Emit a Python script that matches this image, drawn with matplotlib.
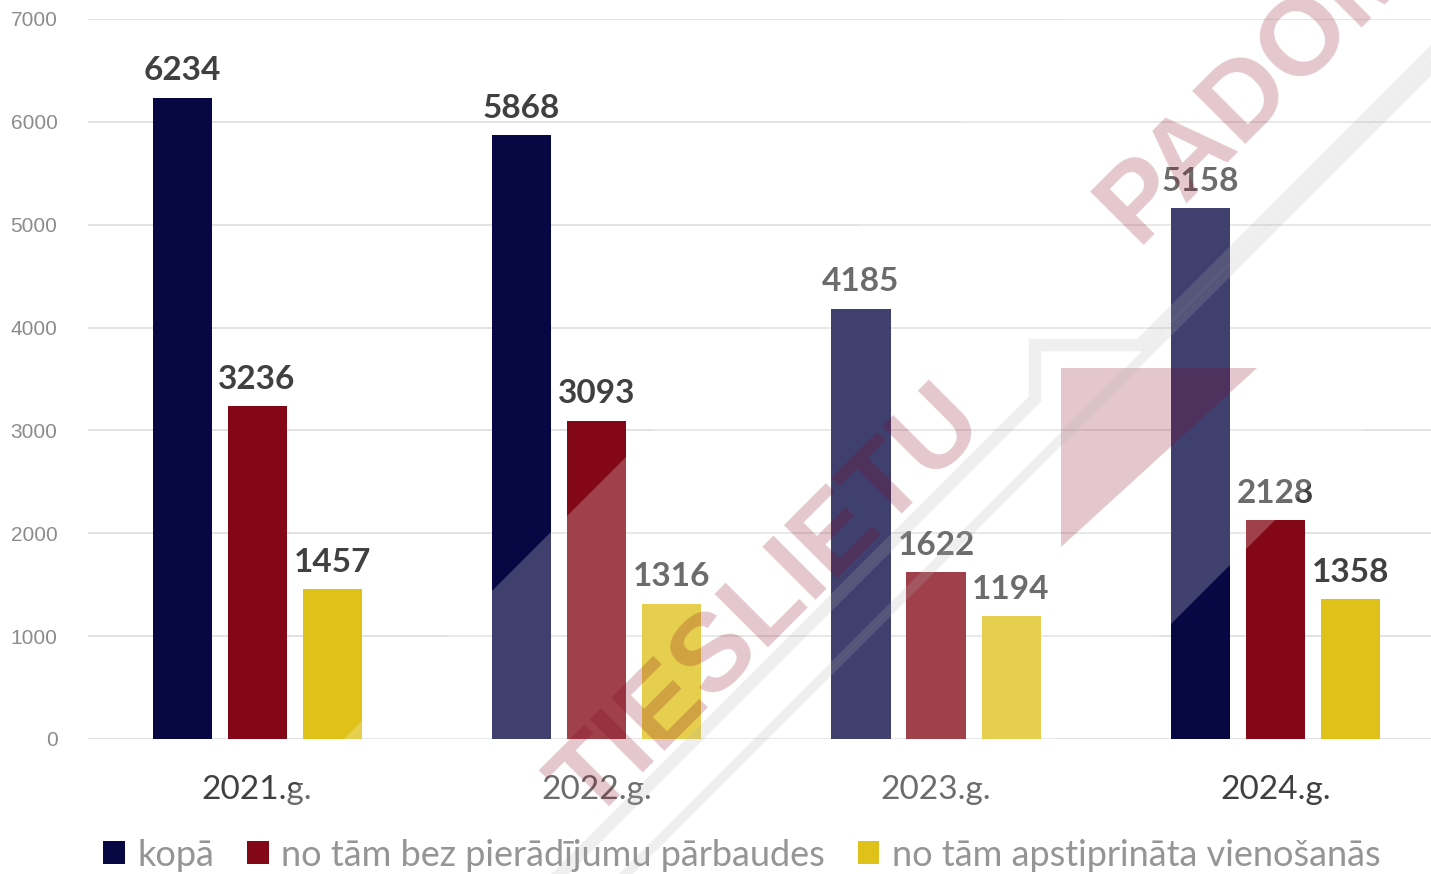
import numpy as np
import matplotlib
matplotlib.use("Agg")
import matplotlib.pyplot as plt
from matplotlib.patches import Patch, Polygon

# data
years = ["2021.g.", "2022.g.", "2023.g.", "2024.g."]
series_names = ["kopā", "no tām bez pierādījumu pārbaudes", "no tām apstiprināta vienošanās"]
kopa = [6234, 5868, 4185, 5158]
bez_parbaudes = [3236, 3093, 1622, 2128]
vienosanas = [1457, 1316, 1194, 1358]
colors = ["#070744", "#830716", "#dfc11a"]

W, H = 1431, 874
fig = plt.figure(figsize=(W / 100, H / 100), dpi=100)
ax = fig.add_axes([88 / W, 135 / H, 1 - 88 / W, 720 / H])

x = np.arange(len(years))
width = 0.174
step = 0.221
for i, (vals, c) in enumerate(zip([kopa, bez_parbaudes, vienosanas], colors)):
    bars = ax.bar(x + (i - 1) * step, vals, width, color=c, zorder=2)
    for b, v in zip(bars, vals):
        ax.annotate(str(v), (b.get_x() + b.get_width() / 2, v), xytext=(0, 9),
                    textcoords="offset points", ha="center", va="bottom",
                    fontsize=24, fontweight="bold", family="Lato", color="#404040")

ax.set_ylim(0, 7000)
ax.set_xlim(-0.498, 3.458)
ax.set_yticks(range(0, 7001, 1000))
ax.set_xticks(x)
ax.set_xticklabels(years, fontsize=24, family="Lato", color="#404040")
ax.tick_params(axis="x", length=0, pad=26)
ax.tick_params(axis="y", length=0, pad=22, labelsize=15, labelcolor="#8c8c8c")
for lab in ax.get_yticklabels():
    lab.set_family("Liberation Sans")
ax.grid(axis="y", color="#e2e2e2", linewidth=1.4, zorder=0)
for s in ax.spines.values():
    s.set_visible(False)

handles = [Patch(facecolor=c) for c in colors]
leg = fig.legend(handles, series_names, loc="center", bbox_to_anchor=(0.5185, 19 / H),
                 ncol=3, frameon=False, handlelength=0.6, handleheight=0.6,
                 handletextpad=0.35, columnspacing=0.9, prop={"family": "Lato", "size": 26})
for t in leg.get_texts():
    t.set_color("#959595")

# watermark overlay (pixel coords, y down)
ov = fig.add_axes([0, 0, 1, 1], zorder=5)
ov.set_xlim(0, W)
ov.set_ylim(H, 0)
ov.axis("off")
ov.patch.set_alpha(0)

band = [(209, 874), (1083, 0), (1431, 0), (1431, 364), (921, 874)]
ov.add_patch(Polygon(band, closed=True, facecolor="white", alpha=0.23, lw=0))
ov.plot([560, 1035, 1035, 1140, 1431], [874, 399, 345, 345, 54], color="#b0b0b0",
        lw=9, alpha=0.2, solid_joinstyle="miter")
ov.plot([626, 1431], [874, 69], color="#b0b0b0", lw=7, alpha=0.2)
ov.add_patch(Polygon([(1061, 368), (1257, 368), (1061, 547)], closed=True,
                     facecolor="#82001a", alpha=0.22, lw=0))
ov.text(770, 605, "TIESLIETU", rotation=45, ha="center", va="center", rotation_mode="anchor",
        fontsize=79, fontweight="bold", family="Liberation Sans", color="#82001a", alpha=0.22)
ov.text(1285, 58, "PADOME", rotation=45, ha="center", va="center", rotation_mode="anchor",
        fontsize=79, fontweight="bold", family="Liberation Sans", color="#82001a", alpha=0.22)

fig.savefig("out.png", dpi=100)
